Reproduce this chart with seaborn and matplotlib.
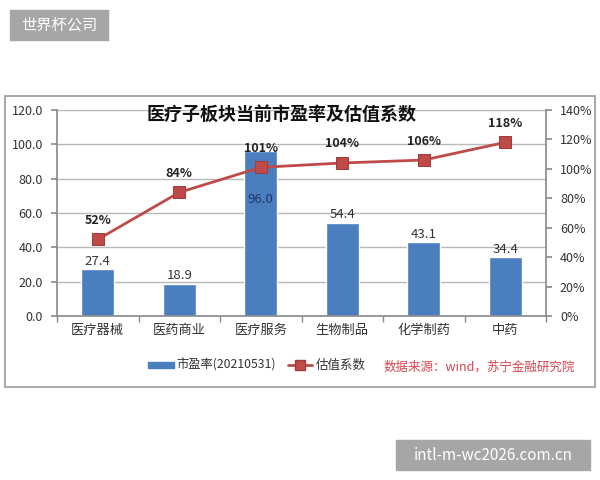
import matplotlib
matplotlib.use('Agg')
import matplotlib.pyplot as plt
import seaborn as sns
import pandas as pd
from matplotlib.patches import Rectangle
from matplotlib.lines import Line2D
from matplotlib.ticker import FuncFormatter, MultipleLocator

# data
sectors = ['医疗器械', '医药商业', '医疗服务', '生物制品', '化学制药', '中药']
pe_ratio = [27.4, 18.9, 96.0, 54.4, 43.1, 34.4]
valuation = [52, 84, 101, 104, 106, 118]

df = pd.DataFrame({'sector': sectors, 'pe': pe_ratio, 'val': valuation})

sns.set_theme(style='white')
plt.rcParams['font.family'] = ['Noto Sans CJK SC', 'DejaVu Sans']

bar_color = '#4a7ebf'
line_color = '#be4b48'
text_color = '#333333'

fig = plt.figure(figsize=(6, 4.8), dpi=100)
fig.patch.set_facecolor('white')

# outer frame of the embedded chart
fig.patches.append(Rectangle((5 / 600, 1 - 387 / 480), 590 / 600, 291 / 480,
                             transform=fig.transFigure, fill=False,
                             edgecolor='#9a9a9a', linewidth=1.2))

ax = fig.add_axes([57 / 600, 1 - 316 / 480, 489 / 600, 206 / 480])
sns.barplot(data=df, x='sector', y='pe', color=bar_color, width=0.4,
            saturation=1, ax=ax, zorder=2)
ax.set_ylim(0, 120)
ax.yaxis.set_major_locator(MultipleLocator(20))
ax.yaxis.set_major_formatter(FuncFormatter(lambda v, p: f'{v:.1f}'))
ax.grid(axis='y', color='#b8b8b8', linewidth=1, zorder=0)
ax.set_axisbelow(True)
ax.set_xlabel('')
ax.set_ylabel('')
for s in ['top', 'right']:
    ax.spines[s].set_visible(False)
ax.spines['left'].set_color('#8c8c8c')
ax.spines['bottom'].set_color('#8c8c8c')
ax.tick_params(axis='y', labelsize=9, colors=text_color, length=4,
               direction='out', left=True, color='#8c8c8c', pad=6)
ax.tick_params(axis='x', labelsize=9.5, colors=text_color, length=0, pad=6)
ax.set_xticks([i + 0.5 for i in range(-1, len(sectors))], minor=True)
ax.tick_params(axis='x', which='minor', bottom=True, length=4, color='#8c8c8c')
ax.set_xlim(-0.5, len(sectors) - 0.5)

for i, v in enumerate(pe_ratio):
    if v > 90:
        ax.text(i, 64, f'{v:.1f}', ha='center', va='bottom', fontsize=9.5,
                color='#1f3864', zorder=5)
    else:
        ax.text(i, v + 0.8, f'{v:.1f}', ha='center', va='bottom', fontsize=9.5,
                color=text_color, zorder=5)

ax2 = ax.twinx()
sns.lineplot(data=df, x='sector', y='val', color=line_color, marker='s',
             markersize=8, markeredgecolor='#a33b38', linewidth=2, ax=ax2,
             zorder=4)
ax2.set_ylim(0, 140)
ax2.yaxis.set_major_locator(MultipleLocator(20))
ax2.yaxis.set_major_formatter(FuncFormatter(lambda v, p: f'{v:.0f}%'))
ax2.set_ylabel('')
ax2.set_xlabel('')
for s in ['top', 'left', 'bottom']:
    ax2.spines[s].set_visible(False)
ax2.spines['right'].set_color('#8c8c8c')
ax2.tick_params(axis='y', labelsize=9, colors=text_color, length=4,
                direction='out', right=True, color='#8c8c8c', pad=6)
ax2.set_xlim(-0.5, len(sectors) - 0.5)
ax2.grid(False)

for i, v in enumerate(valuation):
    ax2.annotate(f'{v}%', (i, v), xytext=(0, 9), textcoords='offset points',
                 ha='center', va='bottom', fontsize=9, fontweight='bold',
                 color='#222222')

fig.text(282 / 600, 1 - 114 / 480, '医疗子板块当前市盈率及估值系数',
         ha='center', va='center', fontsize=13, fontweight='bold',
         color='#111111')

# legend row
ly = 1 - 365 / 480
fig.patches.append(Rectangle((148 / 600, ly - 3 / 480), 26 / 600, 6 / 480,
                             transform=fig.transFigure, color=bar_color))
fig.text(176 / 600, ly, '市盈率(20210531)', ha='left', va='center',
         fontsize=8.8, color=text_color)
fig.lines.append(Line2D([288 / 600, 312 / 600], [ly, ly],
                        transform=fig.transFigure, color=line_color,
                        linewidth=2))
fig.lines.append(Line2D([300 / 600], [ly], transform=fig.transFigure,
                        color=line_color, marker='s', markersize=7,
                        markeredgecolor='#a33b38', linestyle='none'))
fig.text(316 / 600, ly, '估值系数', ha='left', va='center',
         fontsize=9, color=text_color)
fig.text(384 / 600, ly - 2 / 480, '数据来源：wind，苏宁金融研究院', ha='left',
         va='center', fontsize=9, color='#d6454f', style='italic')

# watermarks
fig.patches.append(Rectangle((10 / 600, 1 - 40 / 480), 98 / 600, 30 / 480,
                             transform=fig.transFigure, color='#a6a6a6'))
fig.text(59 / 600, 1 - 25 / 480, '世界杯公司', ha='center', va='center',
         fontsize=11, color='white')
fig.patches.append(Rectangle((396 / 600, 1 - 470 / 480), 194 / 600, 30 / 480,
                             transform=fig.transFigure, color='#a6a6a6'))
fig.text(493 / 600, 1 - 455 / 480, 'intl-m-wc2026.com.cn', ha='center',
         va='center', fontsize=11, color='white')

fig.savefig('out.png', dpi=100)
